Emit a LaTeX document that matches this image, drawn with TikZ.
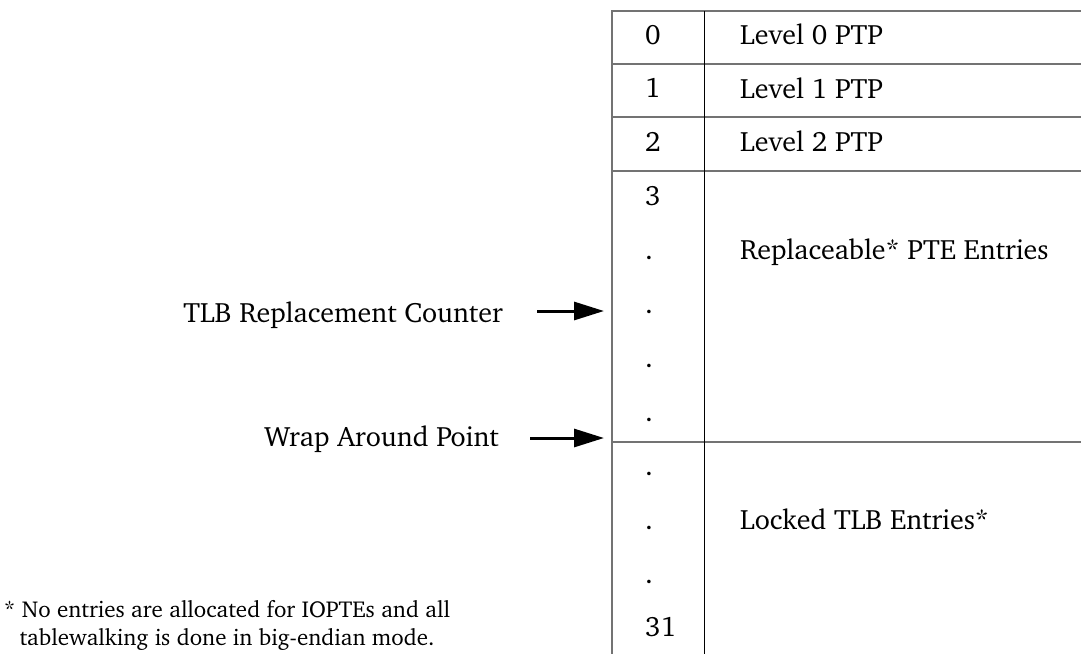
\documentclass[tikz,border=0pt]{standalone}
\usepackage[T1]{fontenc}
\usepackage{charter}
\usetikzlibrary{arrows.meta}
\begin{document}
\begin{tikzpicture}[x=1pt,y=-1pt,
  lbl/.style={inner sep=0pt,font=\fontsize{28}{30}\selectfont},
  note/.style={inner sep=0pt,font=\fontsize{23}{28}\selectfont},
  outer/.style={draw=black!55,line width=1.5pt},
  divider/.style={draw=black,line width=1pt},
  ptr/.style={line width=3pt,-{Triangle[length=30pt,width=18pt]}}]
\useasboundingbox (0,0) rectangle (1081,654);
% table frame
\draw[outer] (1081,11) -- (612,11) -- (612,654);
\draw[outer] (612,64) -- (1081,64);
\draw[outer] (612,117) -- (1081,117);
\draw[outer] (612,171) -- (1081,171);
\draw[outer] (612,442) -- (1081,442);
\draw[divider] (704,11) -- (704,654);
% index column
\foreach \t [count=\k from 0] in {0,1,2,3,.,.,.,.,.,.,.,31}{
  \node[lbl,anchor=base west] (n\k) at (645,44+53.9*\k) {\t};
}
% entry column
\node[lbl,anchor=base west] (e0) at (740,44) {Level 0 PTP};
\node[lbl,anchor=base west] (e1) at (740,98) {Level 1 PTP};
\node[lbl,anchor=base west] (e2) at (740,151) {Level 2 PTP};
\node[lbl,anchor=base west] (rep) at (740,259) {Replaceable* PTE Entries};
\node[lbl,anchor=base west] (lock) at (740,529) {Locked TLB Entries*};
% pointers
\node[lbl,anchor=base east] (tlb) at (503,322) {TLB Replacement Counter};
\node[lbl,anchor=base east] (wrap) at (499,446) {Wrap Around Point};
\coordinate (tlbS) at (537,311);
\coordinate (tlbE) at (604,311);
\coordinate (wrapS) at (530,438);
\coordinate (wrapE) at (604,438);
\draw[ptr] (tlbS) -- (tlbE);
\draw[ptr] (wrapS) -- (wrapE);
% footnote
\node[note,anchor=base] (fn1) at (227,617) {* No entries are allocated for IOPTEs and all};
\node[note,anchor=base] (fn2) at (227,645) {tablewalking is done in big-endian mode.};
\end{tikzpicture}
\end{document}
